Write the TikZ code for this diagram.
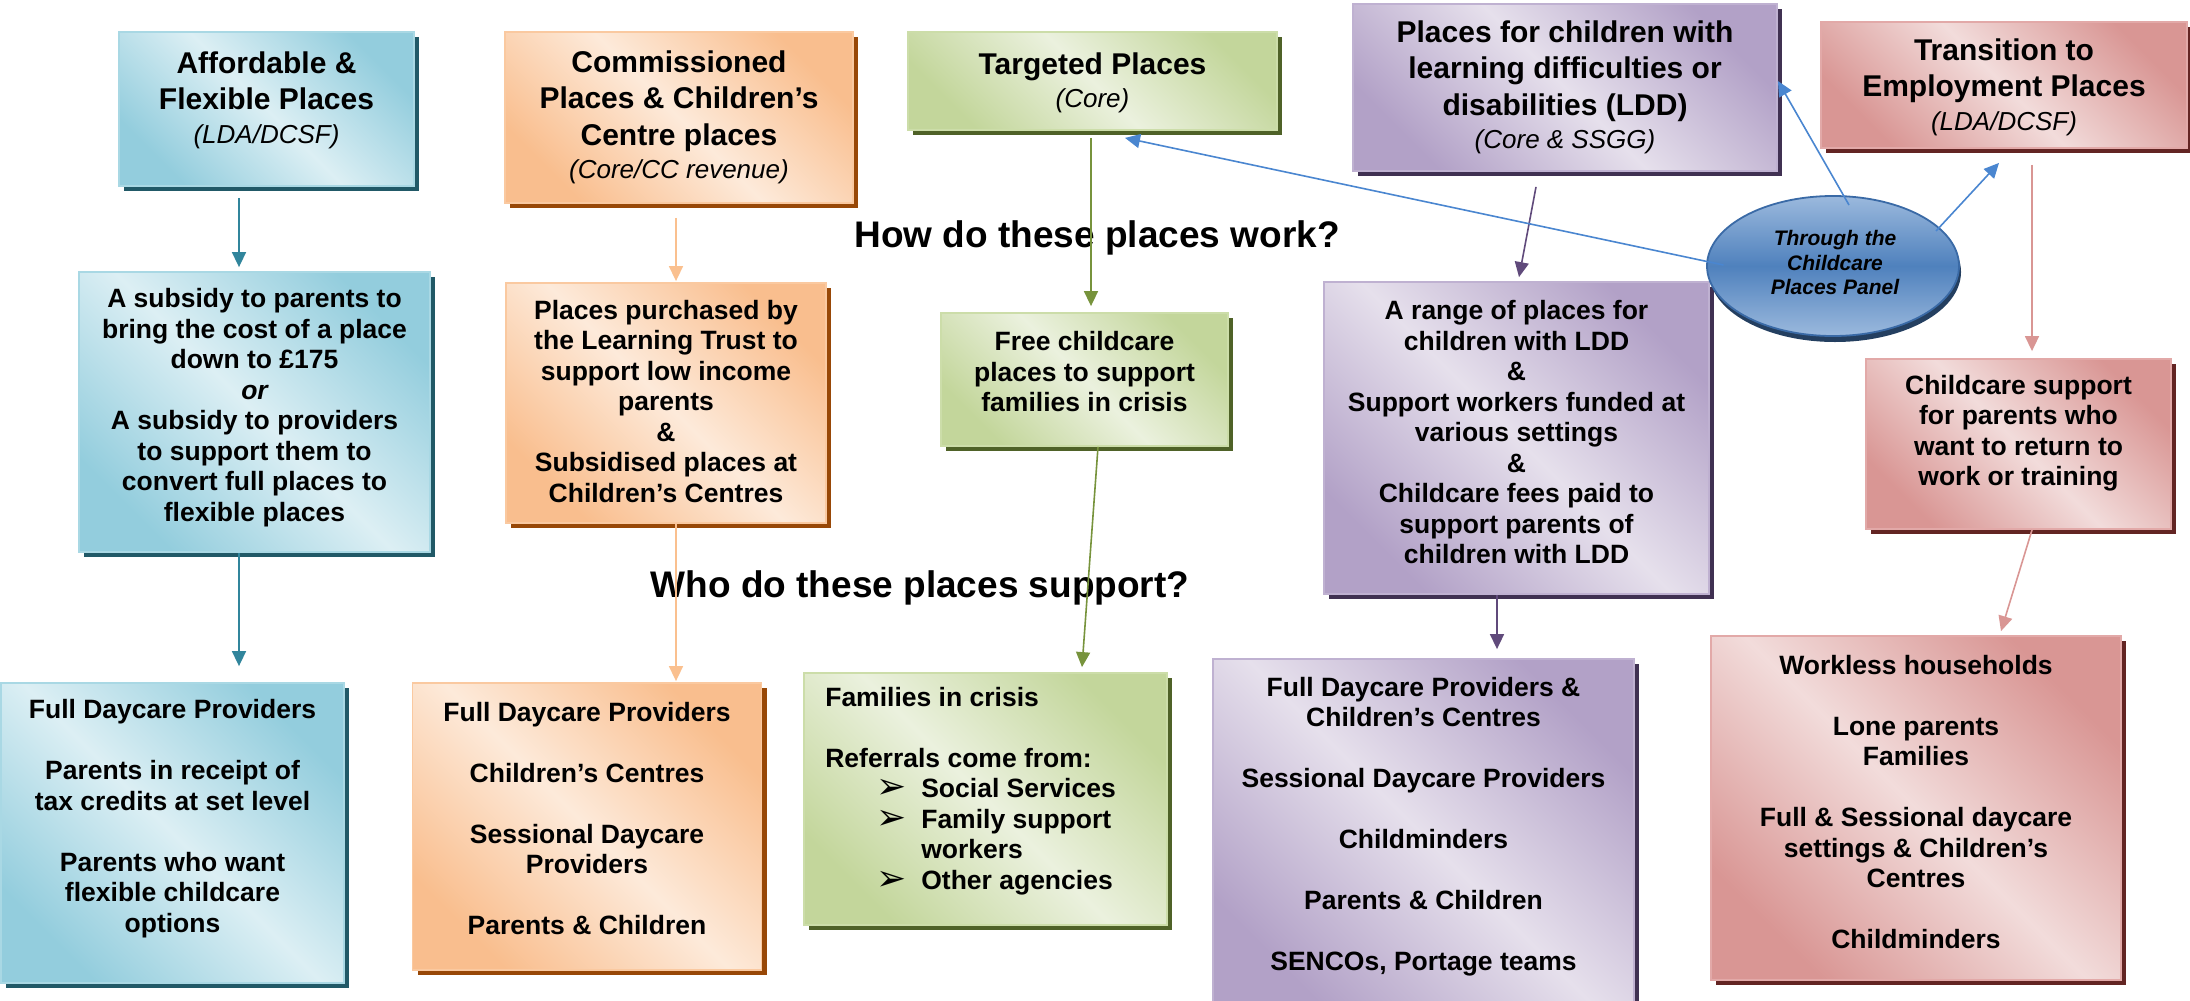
\documentclass[tikz,border=0pt]{standalone}
\usepackage{fontspec}
\setmainfont{Liberation Sans}
\newfontfamily\dingfont{DejaVu Sans}
\usetikzlibrary{arrows.meta,shadows,shapes.geometric}

% palette
\definecolor{tealLight}{HTML}{DCEFF4}
\definecolor{tealDark}{HTML}{93CDDD}
\definecolor{tealEdge}{HTML}{A9D8E4}
\definecolor{tealShadow}{HTML}{215967}
\definecolor{tealLine}{HTML}{31859C}
\definecolor{orangeLight}{HTML}{FDEADA}
\definecolor{orangeDark}{HTML}{F9BE8E}
\definecolor{orangeEdge}{HTML}{FAC9A0}
\definecolor{orangeShadow}{HTML}{984807}
\definecolor{orangeLine}{HTML}{FAC08F}
\definecolor{greenLight}{HTML}{EBF1DE}
\definecolor{greenDark}{HTML}{C3D69B}
\definecolor{greenEdge}{HTML}{CCDDA9}
\definecolor{greenShadow}{HTML}{4F6228}
\definecolor{greenLine}{HTML}{77933C}
\definecolor{purpleLight}{HTML}{E6E0EC}
\definecolor{purpleDark}{HTML}{B2A1C7}
\definecolor{purpleEdge}{HTML}{BFB1D1}
\definecolor{purpleShadow}{HTML}{403152}
\definecolor{purpleLine}{HTML}{604A7B}
\definecolor{redLight}{HTML}{F2DCDB}
\definecolor{redDark}{HTML}{D99694}
\definecolor{redEdge}{HTML}{E2A9A8}
\definecolor{redShadow}{HTML}{632523}
\definecolor{redLine}{HTML}{D99694}
\definecolor{panelLight}{HTML}{9BB9DD}
\definecolor{panelMid}{HTML}{4F81BD}
\definecolor{panelEdge}{HTML}{3A6AA6}
\definecolor{panelShadow}{HTML}{243F60}
\definecolor{panelLine}{HTML}{4A86D0}

% type sizes
\newcommand\cardtitle{\fontsize{30}{36.5}\selectfont\bfseries}
\newcommand\cardsub{\fontsize{26}{33}\selectfont\mdseries\itshape}
\newcommand\cardbody{\fontsize{26.5}{30.5}\selectfont\bfseries}
\newcommand\bigquestion{\fontsize{37}{44}\selectfont\bfseries}
\newcommand\paneltext{\fontsize{21}{24.5}\selectfont\bfseries\itshape}
\newcommand\listmark{\raisebox{-1pt}{\dingfont\mdseries\fontsize{36}{36}\selectfont ➢}}

\tikzset{
  card/.style n args={4}{rectangle, inner sep=0pt, line width=1.8pt, draw=#3,
    top color=#2, bottom color=#2, middle color=#1, shading angle=-45,
    drop shadow={shadow xshift=5pt, shadow yshift=-5pt, fill=#4, opacity=1}},
  tealcard/.style={card={tealLight}{tealDark}{tealEdge}{tealShadow}},
  orangecard/.style={card={orangeLight}{orangeDark}{orangeEdge}{orangeShadow}},
  greencard/.style={card={greenLight}{greenDark}{greenEdge}{greenShadow}},
  purplecard/.style={card={purpleLight}{purpleDark}{purpleEdge}{purpleShadow}},
  redcard/.style={card={redLight}{redDark}{redEdge}{redShadow}},
  panelshape/.style={ellipse, inner sep=0pt, line width=1.8pt, draw=panelEdge,
    top color=panelLight, bottom color=panelLight, middle color=panelMid,
    drop shadow={shadow xshift=2pt, shadow yshift=-6pt, fill=panelShadow, opacity=1}},
  cardtext/.style={inner sep=0pt, align=center, font=\cardbody},
  headtext/.style={inner sep=0pt, align=center, font=\cardtitle},
  question/.style={inner sep=0pt, anchor=base, font=\bigquestion},
  flow/.style={-{Triangle[width=14pt,length=15pt]}, line width=1.6pt},
}

\begin{document}
\begin{tikzpicture}[x=1pt, y=-1pt]
\useasboundingbox (0,0) rectangle (2190,1001);

% ---------- boxes ----------
\node[tealcard, minimum width=295, minimum height=154] (b1) at (266.5,109) {};
\node[tealcard, minimum width=351, minimum height=280] (b2) at (254.5,412) {};
\node[tealcard, minimum width=343, minimum height=300] (b3) at (172.5,833) {};

\node[orangecard, minimum width=348, minimum height=171] (b4) at (679,117.5) {};
\node[orangecard, minimum width=320, minimum height=240] (b5) at (666,403) {};
\node[orangecard, minimum width=349, minimum height=287] (b6) at (587,826.5) {};

\node[greencard, minimum width=369, minimum height=98] (b7) at (1092.5,81) {};
\node[greencard, minimum width=287, minimum height=133] (b8) at (1084.5,379.5) {};
\node[greencard, minimum width=363, minimum height=252] (b9) at (985.5,799) {};

\node[purplecard, minimum width=424, minimum height=167] (b10) at (1565,87.5) {};
\node[purplecard, minimum width=385, minimum height=312] (b11) at (1516.5,438) {};
\node[purplecard, minimum width=421, minimum height=353] (b12) at (1423.5,835.5) {};

\node[redcard, minimum width=366, minimum height=126] (b13) at (2004,85) {};
\node[redcard, minimum width=305, minimum height=170] (b14) at (2018.5,444) {};
\node[redcard, minimum width=410, minimum height=344] (b15) at (1916,808) {};

\node[panelshape, minimum width=252, minimum height=140] (panel) at (1833,266) {};

% ---------- box texts ----------
\node[headtext] (t1) at ([yshift=9pt]b1.center)
  {Affordable \&\\Flexible Places\\[-3pt]{\cardsub (LDA/DCSF)}};
\node[cardtext] (t2) at ([yshift=4.5pt]b2.center)
  {A subsidy to parents to\\bring the cost of a place\\down to £175\\{\itshape or}\\
   A subsidy to providers\\to support them to\\convert full places to\\flexible places};
\node[cardtext] (t3) at ([yshift=14.5pt]b3.center)
  {Full Daycare Providers\\[30.5pt]Parents in receipt of\\tax credits at set level\\[30.5pt]
   Parents who want\\flexible childcare\\options};

\node[headtext] (t4) at (b4.center)
  {Commissioned\\Places \& Children’s\\Centre places\\[-3pt]{\cardsub (Core/CC revenue)}};
\node[cardtext] (t5) at ([yshift=1.5pt]b5.center)
  {Places purchased by\\the Learning Trust to\\support low income\\parents\\\&\\
   Subsidised places at\\Children’s Centres};
\node[cardtext] (t6) at ([yshift=8pt]b6.center)
  {Full Daycare Providers\\[30.5pt]Children’s Centres\\[30.5pt]Sessional Daycare\\Providers\\[30.5pt]
   Parents \& Children};

\node[headtext] (t7) at ([yshift=-2pt]b7.center)
  {Targeted Places\\[-3pt]{\cardsub (Core)}};
\node[cardtext] (t8) at ([yshift=7.5pt]b8.center)
  {Free childcare\\places to support\\families in crisis};
\node[cardtext, align=left, anchor=north west] (t9) at ([xshift=22pt, yshift=-14.5pt]b9.north west)
  {Families in crisis\\[30.5pt]
   Referrals come from:\\
   \hspace*{51pt}\makebox[45pt][l]{\listmark}Social Services\\
   \hspace*{51pt}\makebox[45pt][l]{\listmark}Family support\\
   \hspace*{96pt}workers\\
   \hspace*{51pt}\makebox[45pt][l]{\listmark}Other agencies};

\node[headtext] (t10) at (b10.center)
  {Places for children with\\learning difficulties or\\disabilities (LDD)\\[-3pt]{\cardsub (Core \& SSGG)}};
\node[cardtext] (t11) at ([yshift=5.5pt]b11.center)
  {A range of places for\\children with LDD\\\&\\Support workers funded at\\various settings\\\&\\
   Childcare fees paid to\\support parents of\\children with LDD};
\node[cardtext] (t12) at ([yshift=9pt]b12.center)
  {Full Daycare Providers \&\\Children’s Centres\\[30.5pt]Sessional Daycare Providers\\[30.5pt]
   Childminders\\[30.5pt]Parents \& Children\\[30.5pt]SENCOs, Portage teams};

\node[headtext] (t13) at ([yshift=-2pt]b13.center)
  {Transition to\\Employment Places\\[-3pt]{\cardsub (LDA/DCSF)}};
\node[cardtext] (t14) at ([yshift=11pt]b14.center)
  {Childcare support\\for parents who\\want to return to\\work or training};
\node[cardtext] (t15) at ([yshift=6pt]b15.center)
  {Workless households\\[30.5pt]Lone parents\\Families\\[30.5pt]Full \& Sessional daycare\\
   settings \& Children’s\\Centres\\[30.5pt]Childminders};

\node[inner sep=0pt, align=center, font=\paneltext] (tp) at ([xshift=2pt, yshift=3.5pt]panel.center)
  {Through the\\Childcare\\Places Panel};

% ---------- questions ----------
\node[question] (q1) at (1097,247) {How do these places work?};
\node[question] (q2) at (920,597) {Who do these places support?};

% ---------- connectors ----------
\draw[flow, tealLine] ([xshift=-27.5pt, yshift=-11pt]b1.south) -- ([xshift=-15.5pt, yshift=4pt]b2.north);
\draw[flow, tealLine] ([xshift=-15.5pt]b2.south) -- ([xshift=66.5pt, yshift=16pt]b3.north);

\draw[flow, orangeLine] ([xshift=-3pt, yshift=-14pt]b4.south) -- ([xshift=10pt, yshift=1pt]b5.north);
\draw[flow, orangeLine] ([xshift=10pt]b5.south) -- ([xshift=89pt, yshift=1pt]b6.north);

\draw[flow, greenLine] ([xshift=-1.5pt, yshift=-7pt]b7.south) -- ([xshift=6.5pt, yshift=6pt]b8.north);
\draw[flow, greenLine] ([xshift=13.5pt]b8.south) -- ([xshift=96.5pt, yshift=5pt]b9.north);

\draw[flow, purpleLine] ([xshift=-29pt, yshift=-15pt]b10.south) -- ([xshift=2.5pt, yshift=4pt]b11.north);
\draw[flow, purpleLine] ([xshift=-19.5pt]b11.south) -- ([xshift=73.5pt, yshift=9pt]b12.north);

\draw[flow, redLine] ([xshift=28pt, yshift=-16pt]b13.south) -- ([xshift=13.5pt, yshift=7pt]b14.north);
\draw[flow, redLine] ([xshift=13.5pt]b14.south) -- ([xshift=85pt, yshift=4pt]b15.north);

\draw[flow, panelLine] ([xshift=-109.5pt, yshift=1pt]panel.center) -- ([xshift=32.5pt, yshift=-7pt]b7.south);
\draw[flow, panelLine] ([xshift=16pt, yshift=61pt]panel.center) -- ([yshift=6.5pt]b10.east);
\draw[flow, panelLine] ([xshift=103pt, yshift=35pt]panel.center) -- ([xshift=-5pt, yshift=-14pt]b13.south);
\end{tikzpicture}
\end{document}
